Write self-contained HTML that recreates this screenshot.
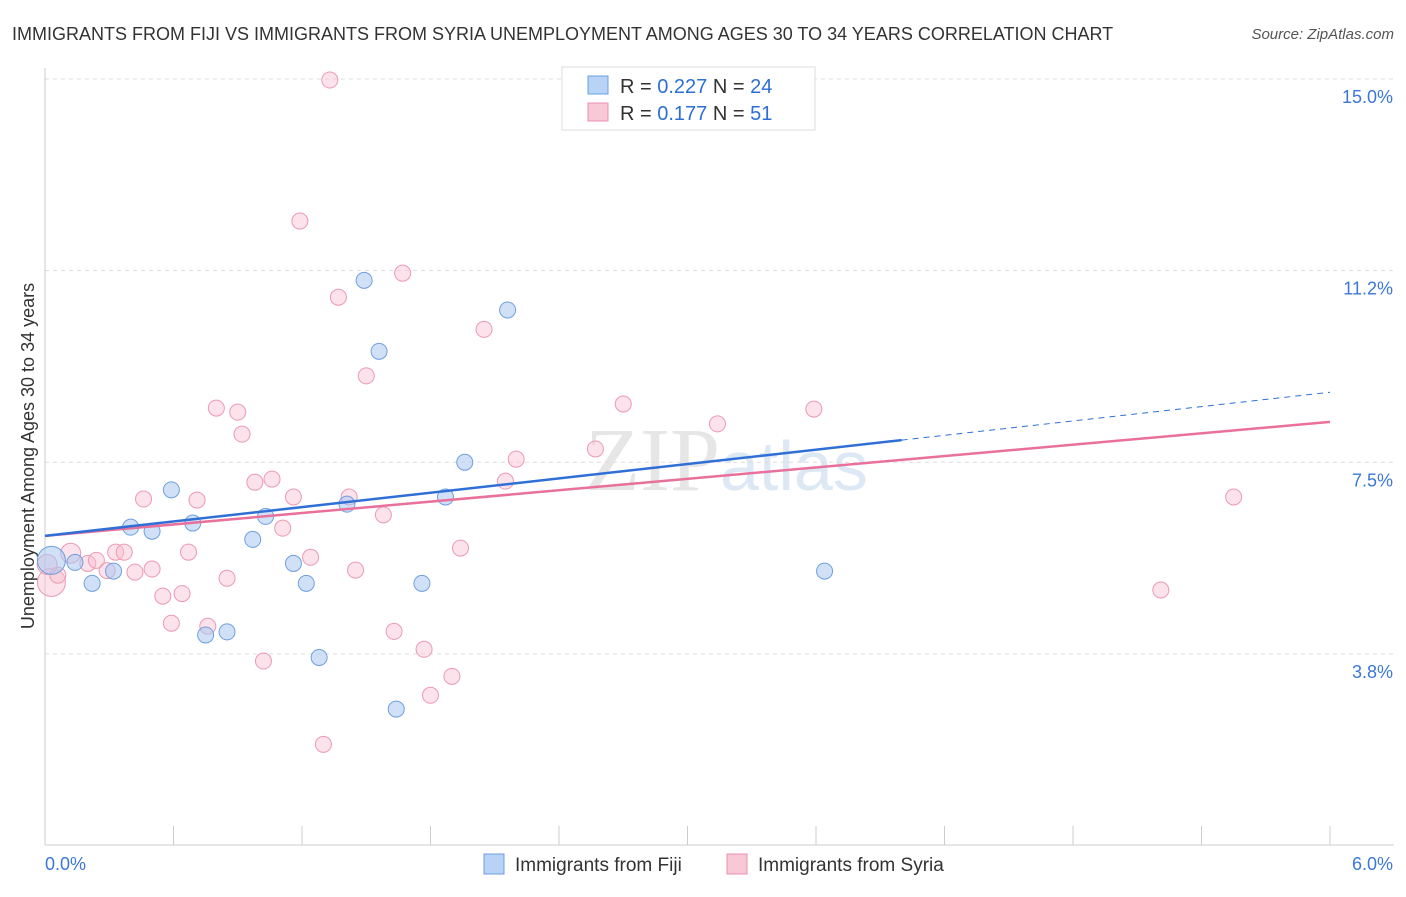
<!DOCTYPE html>
<html><head><meta charset="utf-8"><style>
body{margin:0;background:#fff;font-family:"Liberation Sans",sans-serif}
</style></head><body>
<svg width="1406" height="892" xmlns="http://www.w3.org/2000/svg" id="chart" font-family="Liberation Sans, sans-serif">
<text x="12" y="40" font-size="18" fill="#333">IMMIGRANTS FROM FIJI VS IMMIGRANTS FROM SYRIA UNEMPLOYMENT AMONG AGES 30 TO 34 YEARS CORRELATION CHART</text>
<text x="1394" y="39" font-size="15" fill="#555" font-style="italic" text-anchor="end">Source: ZipAtlas.com</text>
<text x="720" y="490" font-size="90" fill="#e6e6e6" text-anchor="end" font-family="Liberation Serif, serif">ZIP</text>
<text x="720" y="490" font-size="70" fill="#dde8f5">atlas</text>
<text transform="translate(34,456) rotate(-90)" font-size="18" fill="#333" text-anchor="middle">Unemployment Among Ages 30 to 34 years</text>
<g id="grid"></g><g id="axes"></g><g id="marks"></g><g id="lines"></g>
<g>
<rect x="562" y="67" width="253" height="63" fill="#fff" stroke="#ddd"/>
<rect x="588" y="76" width="20" height="18" fill="#b8d3f5" stroke="#6a9fe0"/>
<text x="620" y="93" font-size="20" fill="#333">R = <tspan fill="#2e6fd6">0.227</tspan>   N = <tspan fill="#2e6fd6">24</tspan></text>
<rect x="588" y="103" width="20" height="18" fill="#f9c8d6" stroke="#e991ad"/>
<text x="620" y="120" font-size="20" fill="#333">R =  <tspan fill="#2e6fd6">0.177</tspan>   N =  <tspan fill="#2e6fd6">51</tspan></text>
</g>
<g>
<rect x="484" y="854" width="20" height="20" fill="#b8d3f5" stroke="#6a9fe0"/>
<text x="515" y="871" font-size="19" fill="#333">Immigrants from Fiji</text>
<rect x="727" y="854" width="20" height="20" fill="#f9c8d6" stroke="#e991ad"/>
<text x="758" y="871" font-size="19" fill="#333">Immigrants from Syria</text>
</g>
</svg>
<script>
const yTicks=[15,11.25,7.5,3.75];
const yTickLabels=["15.0%","11.2%","7.5%","3.8%"];
const fijiX=[0.03,0.14,0.22,0.32,0.40,0.50,0.59,0.69,0.75,0.85,0.97,1.03,1.16,1.22,1.28,1.41,1.49,1.56,1.64,1.76,1.87,1.96,2.16,3.64];
const fijiY=[5.58,5.54,5.13,5.37,6.23,6.15,6.96,6.31,4.12,4.18,5.99,6.44,5.52,5.13,3.68,6.68,11.06,9.67,2.67,5.13,6.82,7.50,10.48,5.37];
const fijiR=[14,8,8,8,8,8,8,8,8,8,8,8,8,8,8,8,8,8,8,8,8,8,8,8];
const syriaX=[0.03,0.06,0.12,0.20,0.24,0.29,0.33,0.37,0.42,0.46,0.50,0.55,0.59,0.64,0.67,0.71,0.76,0.80,0.85,0.90,0.92,0.98,1.02,1.06,1.11,1.16,1.19,1.24,1.30,1.33,1.37,1.42,1.45,1.50,1.58,1.63,1.67,1.77,1.80,1.90,1.94,2.05,2.15,2.20,2.57,2.70,3.14,3.59,5.21,5.55,0.01];
const syriaY=[5.15,5.29,5.72,5.52,5.58,5.38,5.74,5.74,5.35,6.78,5.41,4.88,4.35,4.93,5.74,6.76,4.29,8.56,5.23,8.48,8.05,7.11,3.61,7.17,6.21,6.82,12.22,5.64,1.98,14.98,10.73,6.82,5.39,9.19,6.47,4.19,11.20,3.84,2.94,3.31,5.82,10.10,7.13,7.56,7.76,8.64,8.25,8.54,5.00,6.82,5.50];
const syriaR=[14,8,10,8,8,8,8,8,8,8,8,8,8,8,8,8,8,8,8,8,8,8,8,8,8,8,8,8,8,8,8,8,8,8,8,8,8,8,8,8,8,8,8,8,8,8,8,8,8,8,10];
const fijiLine=[6.06,8.87];const fijiSolidEnd=4.0;
const syriaLine=[6.06,8.29];
const xMax=6;
const X=v=>45+v/xMax*1285, Y=v=>79+(15-v)*51.1;
const NS="http://www.w3.org/2000/svg";
function mk(t,a,p){const e=document.createElementNS(NS,t);for(const k in a)e.setAttribute(k,a[k]);document.getElementById(p).appendChild(e);return e;}
yTicks.forEach((t,i)=>{
 const l=mk('line',{x1:45,x2:1394,y1:Y(t),y2:Y(t),stroke:'#ddd','stroke-dasharray':'4,4'},'grid');
 
 
 const tx=mk('text',{x:1393,y:Y(t)+24,'font-size':18,fill:'#3b78d8','text-anchor':'end'},'axes');
 tx.textContent=yTickLabels[i];
 
 
});
let ax=mk('line',{x1:45,x2:45,y1:68,y2:845,stroke:'#ccc'},'axes');


ax=mk('line',{x1:45,x2:1394,y1:845,y2:845,stroke:'#ccc'},'axes');


for(let i=0;i<=10;i++){const t=mk('line',{x1:X(i*0.6),x2:X(i*0.6),y1:826,y2:845,stroke:'#ccc'},'axes');
 
 }
let xl=mk('text',{x:45,y:870,'font-size':18,fill:'#3b78d8'},'axes');xl.textContent='0.0%';


xl=mk('text',{x:1393,y:870,'font-size':18,fill:'#3b78d8','text-anchor':'end'},'axes');xl.textContent='6.0%';


syriaX.forEach((x,i)=>{const c=mk('circle',{cx:X(x),cy:Y(syriaY[i]),r:syriaR[i],fill:'rgba(248,190,208,0.45)',stroke:'#ec9ab4','stroke-width':1},'marks');
 
 });
fijiX.forEach((x,i)=>{const c=mk('circle',{cx:X(x),cy:Y(fijiY[i]),r:fijiR[i],fill:'rgba(170,200,240,0.55)',stroke:'#6e9fe0','stroke-width':1},'marks');
 
 });
const fAt=x=>fijiLine[0]+(fijiLine[1]-fijiLine[0])*x/xMax;
let ln=mk('line',{x1:X(0),y1:Y(syriaLine[0]),x2:X(xMax),y2:Y(syriaLine[1]),stroke:'#e8709a','stroke-width':2.5},'lines');


ln=mk('line',{x1:X(0),y1:Y(fAt(0)),x2:X(fijiSolidEnd),y2:Y(fAt(fijiSolidEnd)),stroke:'#2f6fd6','stroke-width':2.5},'lines');


ln=mk('line',{x1:X(fijiSolidEnd),y1:Y(fAt(fijiSolidEnd)),x2:X(xMax),y2:Y(fAt(xMax)),stroke:'#2f6fd6','stroke-width':1,'stroke-dasharray':'6,5'},'lines');


</script>
</body></html>
